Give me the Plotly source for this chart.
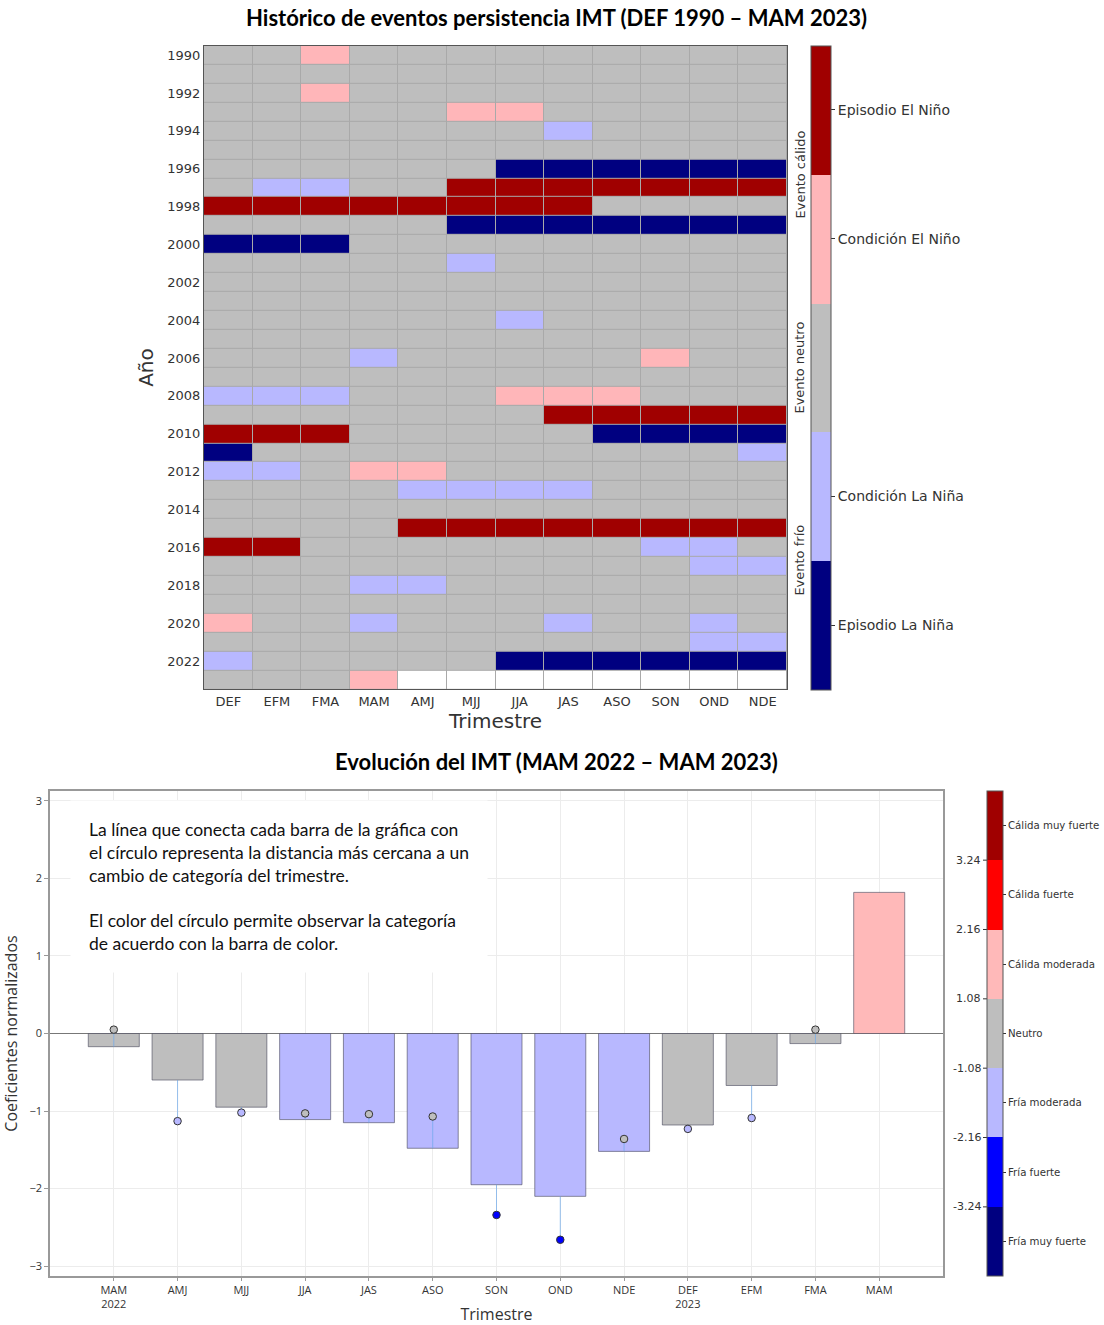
import plotly.graph_objects as go

W, H = 1104, 1325

# ---------------- Data: heatmap ----------------
trimestres = ["DEF", "EFM", "FMA", "MAM", "AMJ", "MJJ", "JJA", "JAS", "ASO", "SON", "OND", "NDE"]
anios = list(range(1990, 2024))
N = None
estado = [
    [0, 0, 1, 0, 0, 0, 0, 0, 0, 0, 0, 0],        # 1990
    [0, 0, 0, 0, 0, 0, 0, 0, 0, 0, 0, 0],        # 1991
    [0, 0, 1, 0, 0, 0, 0, 0, 0, 0, 0, 0],        # 1992
    [0, 0, 0, 0, 0, 1, 1, 0, 0, 0, 0, 0],        # 1993
    [0, 0, 0, 0, 0, 0, 0, -1, 0, 0, 0, 0],       # 1994
    [0, 0, 0, 0, 0, 0, 0, 0, 0, 0, 0, 0],        # 1995
    [0, 0, 0, 0, 0, 0, -2, -2, -2, -2, -2, -2],  # 1996
    [0, -1, -1, 0, 0, 2, 2, 2, 2, 2, 2, 2],      # 1997
    [2, 2, 2, 2, 2, 2, 2, 2, 0, 0, 0, 0],        # 1998
    [0, 0, 0, 0, 0, -2, -2, -2, -2, -2, -2, -2], # 1999
    [-2, -2, -2, 0, 0, 0, 0, 0, 0, 0, 0, 0],     # 2000
    [0, 0, 0, 0, 0, -1, 0, 0, 0, 0, 0, 0],       # 2001
    [0, 0, 0, 0, 0, 0, 0, 0, 0, 0, 0, 0],        # 2002
    [0, 0, 0, 0, 0, 0, 0, 0, 0, 0, 0, 0],        # 2003
    [0, 0, 0, 0, 0, 0, -1, 0, 0, 0, 0, 0],       # 2004
    [0, 0, 0, 0, 0, 0, 0, 0, 0, 0, 0, 0],        # 2005
    [0, 0, 0, -1, 0, 0, 0, 0, 0, 1, 0, 0],       # 2006
    [0, 0, 0, 0, 0, 0, 0, 0, 0, 0, 0, 0],        # 2007
    [-1, -1, -1, 0, 0, 0, 1, 1, 1, 0, 0, 0],     # 2008
    [0, 0, 0, 0, 0, 0, 0, 2, 2, 2, 2, 2],        # 2009
    [2, 2, 2, 0, 0, 0, 0, 0, -2, -2, -2, -2],    # 2010
    [-2, 0, 0, 0, 0, 0, 0, 0, 0, 0, 0, -1],      # 2011
    [-1, -1, 0, 1, 1, 0, 0, 0, 0, 0, 0, 0],      # 2012
    [0, 0, 0, 0, -1, -1, -1, -1, 0, 0, 0, 0],    # 2013
    [0, 0, 0, 0, 0, 0, 0, 0, 0, 0, 0, 0],        # 2014
    [0, 0, 0, 0, 2, 2, 2, 2, 2, 2, 2, 2],        # 2015
    [2, 2, 0, 0, 0, 0, 0, 0, 0, -1, -1, 0],      # 2016
    [0, 0, 0, 0, 0, 0, 0, 0, 0, 0, -1, -1],      # 2017
    [0, 0, 0, -1, -1, 0, 0, 0, 0, 0, 0, 0],      # 2018
    [0, 0, 0, 0, 0, 0, 0, 0, 0, 0, 0, 0],        # 2019
    [1, 0, 0, -1, 0, 0, 0, -1, 0, 0, -1, 0],     # 2020
    [0, 0, 0, 0, 0, 0, 0, 0, 0, 0, -1, -1],      # 2021
    [-1, 0, 0, 0, 0, 0, -2, -2, -2, -2, -2, -2], # 2022
    [0, 0, 0, 1, N, N, N, N, N, N, N, N],        # 2023
]
estado_valores = [-2, -1, 1, 2]
estado_etiquetas = ["Episodio La Niña", "Condición La Niña", "Condición El Niño", "Episodio El Niño"]
grupos_evento = ["Evento cálido", "Evento neutro", "Evento frío"]

# ---------------- Data: bar chart ----------------
periodos = ["MAM<br>2022", "AMJ", "MJJ", "JJA", "JAS", "ASO", "SON", "OND", "NDE",
            "DEF<br>2023", "EFM", "FMA", "MAM"]
valores = [-0.17, -0.60, -0.95, -1.11, -1.15, -1.48, -1.95, -2.10, -1.52, -1.18, -0.67, -0.13, 1.82]
cambio = [0.05, -1.13, -1.02, -1.03, -1.04, -1.07, -2.34, -2.66, -1.36, -1.23, -1.09, 0.05, None]
cat_barra = ["Neutro", "Neutro", "Neutro", "Fría moderada", "Fría moderada", "Fría moderada",
             "Fría moderada", "Fría moderada", "Fría moderada", "Neutro", "Neutro", "Neutro",
             "Cálida moderada"]
cat_circulo = ["Neutro", "Fría moderada", "Fría moderada", "Neutro", "Neutro", "Neutro",
               "Fría fuerte", "Fría fuerte", "Neutro", "Fría moderada", "Fría moderada", "Neutro", None]
categorias = ["Fría muy fuerte", "Fría fuerte", "Fría moderada", "Neutro",
              "Cálida moderada", "Cálida fuerte", "Cálida muy fuerte"]
umbrales = [-3.24, -2.16, -1.08, 1.08, 2.16, 3.24]

# ---------------- Styles ----------------
heat_colors = ["#000080", "#b8b8ff", "#bebebe", "#ffb6b9", "#a00000"]
cat_colors = {"Fría muy fuerte": "#000080", "Fría fuerte": "#0000ff", "Fría moderada": "#b8b8ff",
              "Neutro": "#bebebe", "Cálida moderada": "#ffb9b9", "Cálida fuerte": "#ff0000",
              "Cálida muy fuerte": "#a00000"}


def px_x(p):
    return p / W


def px_y(p):
    return 1 - p / H


def discrete(colors):
    n = len(colors)
    cs = []
    for i, c in enumerate(colors):
        cs.append([i / n, c])
        cs.append([(i + 1) / n, c])
    return cs


# top plot geometry
T_L, T_R, T_T, T_B = 204, 787, 46, 693
# bottom plot geometry
B_L, B_R, B_T, B_B = 50, 943, 795, 1283
CB2_X = 987

fig = go.Figure()

fig.add_trace(go.Heatmap(
    z=estado, x=trimestres, y=anios, zmin=-2.5, zmax=2.5,
    colorscale=discrete(heat_colors), xgap=1, ygap=1, hoverongaps=False,
    xaxis="x", yaxis="y",
    colorbar=dict(
        x=px_x(811), xanchor="left", xpad=0, ypad=0,
        y=(px_y(T_T) + px_y(T_B)) / 2, yanchor="middle",
        len=(T_B - T_T) / H, lenmode="fraction", thickness=20,
        tickvals=estado_valores, ticktext=estado_etiquetas,
        ticks="outside", ticklen=4, tickcolor="#333",
        tickfont=dict(family="DejaVu Sans", size=14, color="#333"),
        outlinewidth=1, outlinecolor="#555",
    ),
))
mascara = [[1 if v is None else None for v in fila] for fila in estado]
fig.add_trace(go.Heatmap(
    z=mascara, x=trimestres, y=anios, colorscale=[[0, "white"], [1, "white"]],
    showscale=False, xgap=1, ygap=1, xaxis="x", yaxis="y", hoverinfo="skip",
))

# ---- bottom chart ----
xi = list(range(len(periodos)))
fig.add_trace(go.Bar(
    x=xi, y=valores, width=0.8,
    marker=dict(color=[cat_colors[c] for c in cat_barra],
                line=dict(color="rgba(70,70,90,0.6)", width=1)),
    xaxis="x2", yaxis="y2", showlegend=False,
))
lx, ly = [], []
for i, (v, c) in enumerate(zip(valores, cambio)):
    if c is None:
        continue
    lx += [i, i, None]
    ly += [v, c, None]
fig.add_trace(go.Scatter(
    x=lx, y=ly, mode="lines", line=dict(color="rgba(110,170,235,0.7)", width=1),
    xaxis="x2", yaxis="y2", showlegend=False, hoverinfo="skip",
))
mx = [i for i, c in enumerate(cambio) if c is not None]
my = [cambio[i] for i in mx]
fig.add_trace(go.Scatter(
    x=mx, y=my, mode="markers",
    marker=dict(size=7.5, color=[cat_colors[cat_circulo[i]] for i in mx],
                line=dict(color="#333", width=1)),
    xaxis="x2", yaxis="y2", showlegend=False,
))
# dummy trace carrying the category colorbar (labels added as annotations)
fig.add_trace(go.Scatter(
    x=[None], y=[None], mode="markers",
    marker=dict(color=[0], cmin=-0.5, cmax=len(categorias) - 0.5,
                colorscale=discrete([cat_colors[c] for c in categorias]), showscale=True,
                colorbar=dict(
                    x=px_x(CB2_X), xanchor="left", xpad=0, ypad=0,
                    y=(px_y(B_T) + px_y(B_B)) / 2, yanchor="middle",
                    len=(B_B - B_T) / H, lenmode="fraction", thickness=16,
                    tickvals=list(range(len(categorias))),
                    ticktext=["" for _ in categorias],
                    ticks="outside", ticklen=3, tickcolor="#333",
                    tickfont=dict(family="DejaVu Sans", size=11, color="#333"),
                    outlinewidth=1, outlinecolor="#555",
                )),
    xaxis="x2", yaxis="y2", showlegend=False, hoverinfo="skip",
))

annotations = []
shapes = []
# titles
annotations.append(dict(text="<b>Histórico de eventos persistencia IMT (DEF 1990 – MAM 2023)</b>",
                        x=px_x(556), y=px_y(18), xref="paper", yref="paper",
                        xanchor="center", yanchor="middle",
                        showarrow=False, font=dict(family="Lato", size=22, color="#000")))
annotations.append(dict(text="<b>Evolución del IMT (MAM 2022 – MAM 2023)</b>",
                        x=px_x(556), y=px_y(766), xref="paper", yref="paper",
                        xanchor="center", yanchor="middle",
                        showarrow=False, font=dict(family="Lato", size=22, color="#000")))
# event group labels beside top colorbar
band_h = (T_B - T_T) / 5
centers = [T_T + band_h, T_T + 2.5 * band_h, T_T + 4 * band_h]
for txt, cy in zip(grupos_evento, centers):
    annotations.append(dict(text=txt, x=px_x(800), y=px_y(cy), xref="paper", yref="paper",
                            xanchor="center", yanchor="middle",
                            textangle=-90, showarrow=False,
                            font=dict(family="DejaVu Sans", size=13, color="#333")))
# bottom colorbar: category names (right) and thresholds (left)
cb_h = (B_B - B_T) / len(categorias)
for k, c in enumerate(categorias):
    ypx = B_B - (k + 0.5) * cb_h
    annotations.append(dict(text=c, x=px_x(CB2_X + 16 + 3), y=px_y(ypx), xref="paper", yref="paper",
                            xanchor="left", yanchor="middle", showarrow=False,
                            font=dict(family="DejaVu Sans", size=10.2, color="#333")))
for k, u in enumerate(umbrales):
    ypx = B_B - (k + 1) * cb_h
    annotations.append(dict(text=f"{u:.2f}", x=px_x(CB2_X - 4), y=px_y(ypx), xref="paper", yref="paper",
                            xanchor="right", yanchor="middle", showarrow=False,
                            font=dict(family="DejaVu Sans", size=11, color="#333")))
    shapes.append(dict(type="line", xref="paper", yref="paper",
                       x0=px_x(CB2_X - 4), x1=px_x(CB2_X), y0=px_y(ypx), y1=px_y(ypx),
                       line=dict(color="#333", width=1)))
# explanatory note
pad = 18
annotations.append(dict(
    text=("La línea que conecta cada barra de la gráfica con<br>"
          "el círculo representa la distancia más cercana a un<br>"
          "cambio de categoría del trimestre.<br><br>"
          "El color del círculo permite observar la categoría<br>"
          "de acuerdo con la barra de color."),
    x=px_x(88 - pad), y=px_y(822 - pad), xref="paper", yref="paper", xanchor="left", yanchor="top",
    align="left", showarrow=False, bgcolor="white", borderpad=pad,
    font=dict(family="Lato", size=17.5, color="#111")))

# grey background behind heatmap gaps
shapes.append(dict(type="rect", xref="x domain", yref="y domain", x0=0, x1=1, y0=0, y1=1,
                   fillcolor="#a9a9a9", line=dict(width=0), layer="below"))

fig.update_layout(
    width=W, height=H, margin=dict(l=0, r=0, t=0, b=0),
    paper_bgcolor="white", plot_bgcolor="white",
    annotations=annotations, shapes=shapes, showlegend=False,
    xaxis=dict(domain=[px_x(T_L), px_x(T_R)], anchor="y", type="category",
               showline=True, mirror=True, linecolor="#555", linewidth=1,
               showgrid=False, zeroline=False, ticks="",
               tickfont=dict(family="DejaVu Sans", size=13, color="#333"),
               title=dict(text="Trimestre", standoff=6,
                          font=dict(family="DejaVu Sans", size=20, color="#333"))),
    yaxis=dict(domain=[px_y(T_B), px_y(T_T)], anchor="x",
               range=[2023.5, 1989.5], tickvals=list(range(1990, 2023, 2)),
               showline=True, mirror=True, linecolor="#555", linewidth=1,
               showgrid=False, zeroline=False, ticks="",
               tickfont=dict(family="DejaVu Sans", size=13, color="#333"),
               title=dict(text="Año", standoff=8,
                          font=dict(family="DejaVu Sans", size=20, color="#333"))),
    xaxis2=dict(domain=[px_x(B_L), px_x(B_R)], anchor="y2", range=[-1, len(periodos)],
                tickvals=xi, ticktext=periodos,
                showline=True, mirror=True, linecolor="#999", linewidth=1.5,
                showgrid=True, gridcolor="#ececec", zeroline=False,
                ticks="outside", ticklen=3, tickcolor="#999",
                tickfont=dict(family="Open Sans", size=11, color="#333"),
                title=dict(text="Trimestre", standoff=2,
                           font=dict(family="Open Sans", size=16, color="#333"))),
    yaxis2=dict(domain=[px_y(B_B), px_y(B_T)], anchor="x2", range=[-3.13, 3.13], dtick=1,
                showline=True, mirror=True, linecolor="#999", linewidth=1.5,
                showgrid=True, gridcolor="#ececec",
                zeroline=True, zerolinecolor="#777", zerolinewidth=1,
                ticks="outside", ticklen=4, tickcolor="#999",
                tickfont=dict(family="Open Sans", size=11, color="#333"),
                title=dict(text="Coeficientes normalizados", standoff=8,
                           font=dict(family="Open Sans", size=16, color="#333"))),
)

fig.write_html("out.html")
